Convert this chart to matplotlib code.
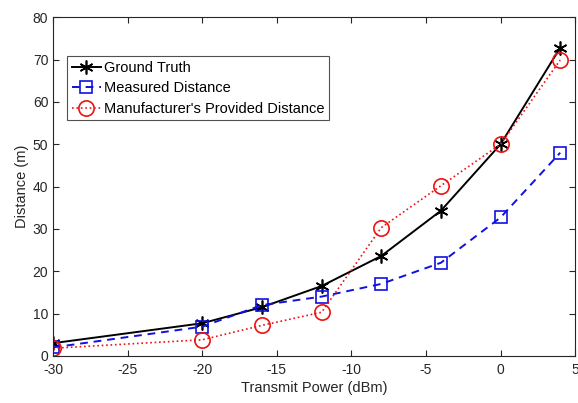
import matplotlib.pyplot as plt
import numpy as np

plt.rcParams['font.family'] = ['Liberation Sans', 'DejaVu Sans']
plt.rcParams['axes.unicode_minus'] = False

# data
power = [-30, -20, -16, -12, -8, -4, 0, 4]
ground_truth = [3, 7.7, 11.5, 16.5, 23.6, 34.3, 50, 72.8]
measured = [2, 6.9, 12, 14, 17, 22, 32.7, 48]
manufacturer = [1.8, 3.8, 7.2, 10.3, 30.3, 40.2, 50, 69.9]

fig = plt.figure(figsize=(5.78, 4.03), dpi=100)
ax = fig.add_axes([0.092, 0.117, 0.903, 0.84])

ax.plot(power, ground_truth, color='black', linestyle='-', marker=(6, 2, 0),
        markersize=10, markeredgewidth=1.2, linewidth=1.4, label='Ground Truth')
ax.plot(power, measured, color='#1010e0', linestyle='--', marker='s',
        markersize=9, markerfacecolor='none', markeredgewidth=1.2,
        linewidth=1.4, dashes=(4, 3), label='Measured Distance')
ax.plot(power, manufacturer, color='#ee1111', linestyle=':', marker='o',
        markersize=11, markerfacecolor='none', markeredgewidth=1.2,
        linewidth=1.2, label="Manufacturer's Provided Distance")

ax.set_xlim(-30, 5)
ax.set_ylim(0, 80)
ax.set_xticks(np.arange(-30, 6, 5))
ax.set_yticks(np.arange(0, 81, 10))
ax.tick_params(direction='in', top=True, right=True, labelsize=10,
               colors='#262626', length=4)
ax.tick_params(axis='x', pad=5)
for s in ax.spines.values():
    s.set_color('#262626')
ax.set_xlabel('Transmit Power (dBm)', fontsize=10.5, color='#262626', labelpad=3)
ax.set_ylabel('Distance (m)', fontsize=10.5, color='#262626', labelpad=3)

leg = ax.legend(loc='upper left', bbox_to_anchor=(0.027, 0.885), fontsize=10.5,
                frameon=True, fancybox=False, handlelength=2.0,
                handletextpad=0.2, borderpad=0.3, labelspacing=0.45,
                borderaxespad=0)
leg.get_frame().set_edgecolor('#262626')
leg.get_frame().set_linewidth(0.8)

plt.savefig('out.png', dpi=100)
